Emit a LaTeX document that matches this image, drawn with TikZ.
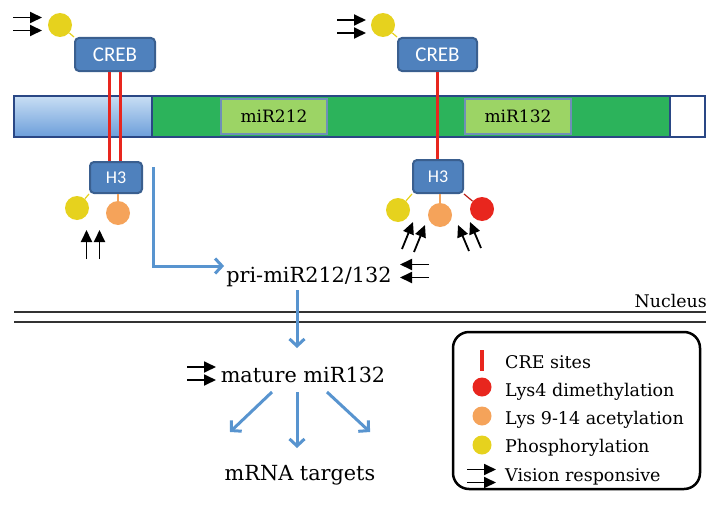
\documentclass[tikz,border=0pt]{standalone}
\usepackage{fontspec}
\setmainfont{DejaVu Serif}
\newfontfamily\labelsans{Carlito}
\usetikzlibrary{arrows.meta}
\definecolor{crebfill}{HTML}{4F81BD}
\definecolor{crebline}{HTML}{3A5F8F}
\definecolor{dotyellow}{HTML}{E6D21E}
\definecolor{dotorange}{HTML}{F5A35A}
\definecolor{dotred}{HTML}{E8261E}
\definecolor{arrowblue}{HTML}{5894CF}
\definecolor{genegreen}{HTML}{2CB35B}
\definecolor{mirgreen}{HTML}{9CD465}
\definecolor{barline}{HTML}{2A4785}
\definecolor{mirline}{HTML}{6F8FB8}
\definecolor{baretop}{HTML}{C8DEF4}
\definecolor{barebottom}{HTML}{6C9EDA}
\tikzset{
  prot/.style={draw=crebline, line width=2pt, fill=crebfill, rounded corners=4pt,
    text=white, inner sep=0pt},
  dot/.style={circle, inner sep=0pt, minimum size=24pt},
  smalldot/.style={circle, inner sep=0pt, minimum size=19pt},
  tether/.style={line width=1.2pt},
  creline/.style={draw=dotred, line width=3pt},
  blackarr/.style={-{Triangle[length=12pt,width=11pt]}, line width=1.8pt, black},
  bluearr/.style={-{Straight Barb[length=7pt,width=15pt]}, line width=3pt, arrowblue},
  bigtext/.style={font=\fontsize{20.8}{24}\selectfont, inner sep=2pt},
  legtext/.style={font=\fontsize{17.5}{21}\selectfont, inner sep=1pt, anchor=base west},
  mirtext/.style={font=\fontsize{17}{20}\selectfont},
  vispair/.pic={
    \draw[blackarr] (0,-6.5) -- (29,-6.5);
    \draw[blackarr] (0,6.5) -- (29,6.5);
  },
}
\begin{document}
\begin{tikzpicture}[x=1pt,y=-1pt]
\useasboundingbox (0,0) rectangle (714,519);

% ---- gene bar ----
\shade[top color=baretop, bottom color=barebottom] (14,96) rectangle (152,137);
\draw[barline, line width=1.3pt] (14,96) rectangle (152,137);
\filldraw[fill=genegreen, draw=barline, line width=1.3pt] (152,96) rectangle (670,137);
\filldraw[fill=white, draw=barline, line width=1.3pt] (670,96) rectangle (705,137);
\node[draw=mirline, line width=1.2pt, fill=mirgreen, minimum width=106pt, minimum height=35pt,
  inner sep=0pt, mirtext] (mir212) at (274,116.5) {miR212};
\node[draw=mirline, line width=1.2pt, fill=mirgreen, minimum width=106pt, minimum height=35pt,
  inner sep=0pt, mirtext] (mir132) at (518,116.5) {miR132};

% ---- CREB proteins ----
\node[prot, minimum width=80pt, minimum height=33pt, font=\labelsans\fontsize{21}{23}\selectfont]
  (creb1) at (115,54.5) {CREB};
\node[prot, minimum width=79pt, minimum height=33pt, font=\labelsans\fontsize{21}{23}\selectfont]
  (creb2) at (437.5,54.5) {CREB};
\node[dot, fill=dotyellow] (py1) at (60,25) {};
\node[dot, fill=dotyellow] (py2) at (383,25) {};
\draw[tether, dotyellow] (py1) -- (creb1.north west);
\draw[tether, dotyellow] (py2) -- (creb2.north west);
\pic at (13,24) {vispair};
\pic at (337,26.5) {vispair};

% ---- H3 histones ----
\node[prot, minimum width=52pt, minimum height=31pt, font=\labelsans\fontsize{18}{20}\selectfont]
  (h3a) at (116,177.5) {H3};
\node[prot, minimum width=50pt, minimum height=33pt, font=\labelsans\fontsize{18}{20}\selectfont]
  (h3b) at (438,176.5) {H3};

% CRE sites
\draw[creline] ([xshift=-5.5pt]creb1.south) -- ([xshift=-5.5pt]creb1.south |- h3a.north);
\draw[creline] ([xshift=5.5pt]creb1.south) -- ([xshift=5.5pt]creb1.south |- h3a.north);
\draw[creline] (creb2.south) -- (creb2.south |- h3b.north);

% histone marks, left
\node[dot, fill=dotyellow] (ya) at (77,208) {};
\node[dot, fill=dotorange] (oa) at (118,213) {};
\draw[tether, dotyellow] (ya) -- (h3a.south west);
\draw[tether, dotorange] (oa) -- (oa |- h3a.south);
\pic[rotate=90] at (93,259) {vispair};

% histone marks, right
\node[dot, fill=dotyellow] (yb) at (398,210) {};
\node[dot, fill=dotorange] (ob) at (440,215) {};
\node[dot, fill=dotred] (rb) at (482,209) {};
\draw[tether, dotyellow] (yb) -- (h3b.south west);
\draw[tether, dotorange] (ob) -- (ob |- h3b.south);
\draw[tether, dotred!80!black] (rb) -- (h3b.south east);
\draw[blackarr] (402,249) -- (413,222);
\draw[blackarr] (414,252) -- (425,225);
\draw[blackarr] (469,251) -- (458,225);
\draw[blackarr] (481,248) -- (470,222);

% ---- pri-miRNA ----
\node[bigtext, anchor=base] (pri) at (309,282) {pri-miR212/132};
\coordinate (elbowstart) at (153,167);
\coordinate (bend) at (153,266);
\draw[bluearr] (elbowstart) -- (bend) -- (bend -| pri.west);
\pic[rotate=180] at (429,271) {vispair};

% ---- nucleus boundary ----
\draw[line width=1.4pt, black!80] (14,312) -- (706,312);
\draw[line width=1.4pt, black!80] (14,322) -- (706,322);
\node[font=\fontsize{17.4}{20}\selectfont, anchor=base east, inner sep=0pt] (nuc) at (707,307) {Nucleus};

\coordinate (s1) at (297,290);
\coordinate (s2) at (297,348);
\draw[bluearr] (s1) -- (s2);

% ---- mature miRNA ----
\node[bigtext, anchor=base] (mat) at (303,382) {mature miR132};
\pic at (187,373.5) {vispair};
\node[bigtext, anchor=base] (mrna) at (300,480) {mRNA targets};
\coordinate (m1) at (272,392);
\coordinate (m2) at (297,392);
\coordinate (m3) at (327,392);
\coordinate (t1) at (230,432);
\coordinate (t2) at (297,448);
\coordinate (t3) at (370,432);
\draw[bluearr] (m1) -- (t1);
\draw[bluearr] (m2) -- (t2);
\draw[bluearr] (m3) -- (t3);

% ---- legend ----
\draw[line width=2.5pt, rounded corners=16pt] (453,332) rectangle (700,489);
\draw[creline, line width=3.5pt] (482,350) -- (482,371);
\node[smalldot, fill=dotred] (lr) at (482,387) {};
\node[smalldot, fill=dotorange] (lo) at (482,416) {};
\node[smalldot, fill=dotyellow] (ly) at (482,445) {};
\pic at (467,476) {vispair};
\node[legtext] (l1) at (504,368) {CRE sites};
\node[legtext] (l2) at (504,396) {Lys4 dimethylation};
\node[legtext] (l3) at (504,424) {Lys 9-14 acetylation};
\node[legtext] (l4) at (504,452) {Phosphorylation};
\node[legtext] (l5) at (504,481) {Vision responsive};
\end{tikzpicture}
\end{document}
